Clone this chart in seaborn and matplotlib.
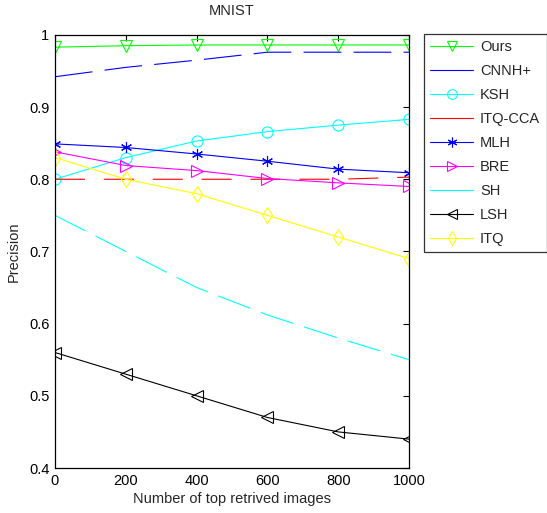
import numpy as np
import pandas as pd
import matplotlib
matplotlib.use("Agg")
import matplotlib.pyplot as plt
from matplotlib.lines import Line2D
import seaborn as sns

# data
top_k = [0, 200, 400, 600, 800, 1000]
ours = [0.983, 0.985, 0.986, 0.986, 0.986, 0.986]
cnnh_plus = [0.942, 0.955, 0.965, 0.976, 0.976, 0.976]
ksh = [0.800, 0.830, 0.853, 0.866, 0.875, 0.883]
itq_cca = [0.800, 0.800, 0.800, 0.800, 0.800, 0.803]
mlh = [0.849, 0.844, 0.835, 0.825, 0.814, 0.809]
bre = [0.838, 0.819, 0.812, 0.801, 0.795, 0.790]
sh = [0.750, 0.700, 0.650, 0.612, 0.580, 0.550]
lsh = [0.560, 0.530, 0.500, 0.470, 0.450, 0.440]
itq = [0.830, 0.800, 0.780, 0.750, 0.720, 0.690]

methods = ["Ours", "CNNH+", "KSH", "ITQ-CCA", "MLH", "BRE", "SH", "LSH", "ITQ"]
values = [ours, cnnh_plus, ksh, itq_cca, mlh, bre, sh, lsh, itq]
x_ticks = [0, 200, 400, 600, 800, 1000]
y_ticks = [0.4, 0.5, 0.6, 0.7, 0.8, 0.9, 1.0]
y_tick_labels = ["0.4", "0.5", "0.6", "0.7", "0.8", "0.9", "1"]

# styles
colors = {"Ours": "#00ff00", "CNNH+": "#0000ff", "KSH": "#00ffff", "ITQ-CCA": "#ff0000",
          "MLH": "#0000ff", "BRE": "#ff00ff", "SH": "#00ffff", "LSH": "#000000", "ITQ": "#ffff00"}
markers = {"Ours": "v", "CNNH+": None, "KSH": "o", "ITQ-CCA": None, "MLH": (6, 2, 0),
           "BRE": ">", "SH": None, "LSH": "<", "ITQ": "d"}
linestyles = {"Ours": "-", "CNNH+": (0, (34, 11)), "KSH": "-", "ITQ-CCA": (0, (27, 17)),
              "MLH": "-", "BRE": "-", "SH": (0, (31, 10)), "LSH": "-", "ITQ": "-"}
fs = 10.5

sns.set_style("white")
plt.rcParams["font.family"] = ["Liberation Sans", "DejaVu Sans"]
plt.rcParams["font.size"] = fs

fig = plt.figure(figsize=(5.47, 5.13), dpi=100)
ax = fig.add_axes([0.1005, 0.0877, 0.6475, 0.8443])

df = pd.DataFrame({"x": top_k * len(methods),
                   "y": np.concatenate(values),
                   "method": np.repeat(methods, len(top_k))})

def marker_kw(m, size=8):
    if markers[m] is None:
        return dict(marker=None)
    return dict(marker=markers[m], markersize=size, markerfacecolor="none",
                markeredgecolor=colors[m], markeredgewidth=0.8)

for m in methods:
    sub = df[df["method"] == m]
    sns.lineplot(data=sub, x="x", y="y", ax=ax, color=colors[m], linewidth=0.8,
                 linestyle=linestyles[m], legend=False, **marker_kw(m))

ax.set_xlim(0, 1000)
ax.set_ylim(0.4, 1.0)
ax.set_xticks(x_ticks)
ax.set_yticks(y_ticks)
ax.set_yticklabels(y_tick_labels)
ax.tick_params(direction="in", top=True, right=True, length=4, width=0.8,
               labelsize=fs, colors="black", pad=4)
for s in ax.spines.values():
    s.set_color("black")
    s.set_linewidth(0.9)
ax.set_xlabel("Number of top retrived images", fontsize=fs, labelpad=3)
ax.set_ylabel("Precision", fontsize=fs, labelpad=6)
ax.set_title("MNIST", fontsize=fs, pad=14)

# legend proxies: solid lines, one marker in the middle
handles = [Line2D([], [], color=colors[m], linewidth=0.8, **marker_kw(m, 7)) for m in methods]
leg = ax.legend(handles, methods, loc="upper left", bbox_to_anchor=(0.775, 0.934),
                bbox_transform=fig.transFigure, fontsize=fs, frameon=True,
                fancybox=False, handlelength=2.9, labelspacing=0.68,
                borderpad=0.45, handletextpad=0.5, borderaxespad=0)
leg.get_frame().set_edgecolor("black")
leg.get_frame().set_linewidth(0.9)

fig.savefig("out.png", dpi=100, facecolor="white")
